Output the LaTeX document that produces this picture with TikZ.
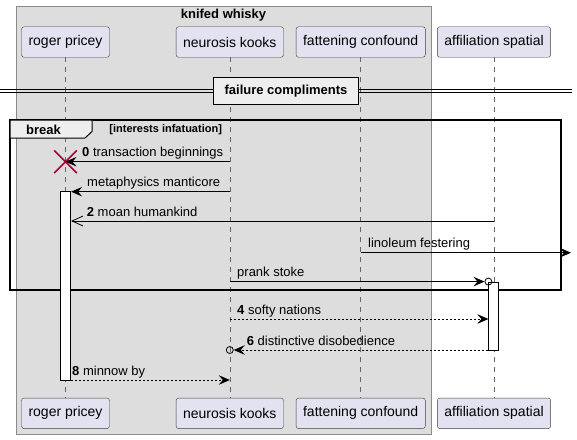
\documentclass[tikz,border=0pt]{standalone}
\usepackage{fontspec}
\setmainfont{Liberation Sans}
\usetikzlibrary{arrows.meta,shapes.misc}
\definecolor{partfill}{HTML}{E2E2F0}
\definecolor{grpfill}{HTML}{DDDDDD}
\definecolor{tabfill}{HTML}{EEEEEE}
\definecolor{xred}{HTML}{A80036}
\begin{document}
\begin{tikzpicture}[x=1pt,y=-1pt,>={Stealth[length=11pt,width=9.5pt,inset=4pt]}]
		\tikzstyle{part}=[draw=black!75,fill=partfill,rounded corners=2.5pt,minimum height=30.5pt,inner xsep=7pt,font=\fontsize{14}{16}\selectfont]
		\tikzstyle{life}=[draw=black!60,dash pattern=on 5pt off 5pt,line width=0.6pt]
		\tikzstyle{bar}=[draw,fill=white,minimum width=10pt,inner sep=0pt,line width=0.8pt]
		\tikzstyle{msg}=[line width=0.8pt,->]
		\tikzstyle{rep}=[msg,dash pattern=on 2pt off 2pt]
		\tikzstyle{lbl}=[anchor=base west,inner sep=0pt,font=\fontsize{13}{15}\selectfont]
		\tikzstyle{bold}=[inner sep=0pt,font=\bfseries\fontsize{13}{15}\selectfont]
		\tikzstyle{circ}=[draw,circle,minimum size=7pt,inner sep=0pt,line width=0.8pt]

		\useasboundingbox (0,0) rectangle (577,439);
		\draw[draw=black!45,fill=grpfill] (16,6) rectangle (431,434);
		\node[bold] (grp) at (223.5,15) {knifed whisky};

		\node[part](rp) at (65.5,42){roger pricey};
		\node[part](nk) at (229.8,42){neurosis kooks};
		\node[part](fc) at (360.7,42){fattening confound};
		\node[part](as) at (494,42){affiliation spatial};
		\node[part](rpb) at (65.5,413.3){roger pricey};
		\node[part](nkb) at (229.8,413.3){neurosis kooks};
		\node[part](fcb) at (360.7,413.3){fattening confound};
		\node[part](asb) at (494,413.3){affiliation spatial};
		\foreach \a/\b in {rp/rpb,nk/nkb,fc/fcb,as/asb}
			\draw[life] (\a) -- (\b);

		\draw[line width=0.8pt] (0,89) -- (572,89);
		\draw[line width=0.8pt] (0,92.7) -- (572,92.7);
		\node[bold,draw,line width=1.4pt,fill=tabfill,minimum width=145.5pt,minimum height=26.5pt](dv) at (286,91){failure compliments};

		\draw[line width=1.5pt] (10,120) rectangle (561,290);
		\draw[line width=1pt,fill=tabfill] (10,120) -- (92,120) -- (92,131.5) -- (85,138) -- (10,138) -- cycle;
		\node[bold](brk) at (43.5,129.5){break};
		\node[inner sep=0pt,font=\bfseries\fontsize{11}{13}\selectfont](cond) at (165.7,130){[interests infatuation]};

		\node[bar,minimum height=188.3pt](rpact) at (65.7,285.85){};
		\node[bar,minimum height=68pt](asact) at (493.8,316){};

		\coordinate (y0) at (0,161.7);
		\coordinate (y1) at (0,191.7);
		\coordinate (y2) at (0,221);
		\coordinate (edge) at (571,252.7);
		\coordinate (y5) at (0,319);
		\coordinate (y6) at (0,350);
		\coordinate (y7) at (0,380);

		\node[cross out,draw=xred,line width=1.6pt,minimum size=21pt,inner sep=0pt](kill) at (rp |- y0){};
		\draw[msg] (nk |- y0) -- (kill.center);
		\node[lbl](l0) at (82,156.7){\textbf{0} transaction beginnings};
		\draw[msg] (nk |- y1) -- (rpact.east |- y1);
		\node[lbl](l1) at (87,186.7){metaphysics manticore};
		\draw[line width=0.8pt,-{Straight Barb[length=11pt,width=10pt]}] (as |- y2) -- (rpact.east |- y2);
		\node[lbl](l2) at (86.7,216){\textbf{2} moan humankind};
		\draw[msg] (fc |- edge) -- (edge);
		\node[lbl](l3) at (368,247.7){linoleum festering};
		\node[circ](c1) at (asact.north west){};
		\draw[msg] (nk |- c1) -- (c1.west);
		\node[lbl](l4) at (237,276.7){prank stoke};
		\draw[rep] (nk |- y5) -- (asact.west |- y5);
		\node[lbl](l5) at (237,314){\textbf{4} softy nations};
		\node[circ](c2) at (nk |- y6){};
		\draw[rep] (asact.west |- y6) -- (c2.east);
		\node[lbl](l6) at (246.7,345){\textbf{6} distinctive disobedience};
		\draw[rep] (rpact.east |- y7) -- (nk |- y7);
		\node[lbl](l7) at (72,375){\textbf{8} minnow by};
	\end{tikzpicture}
\end{document}
